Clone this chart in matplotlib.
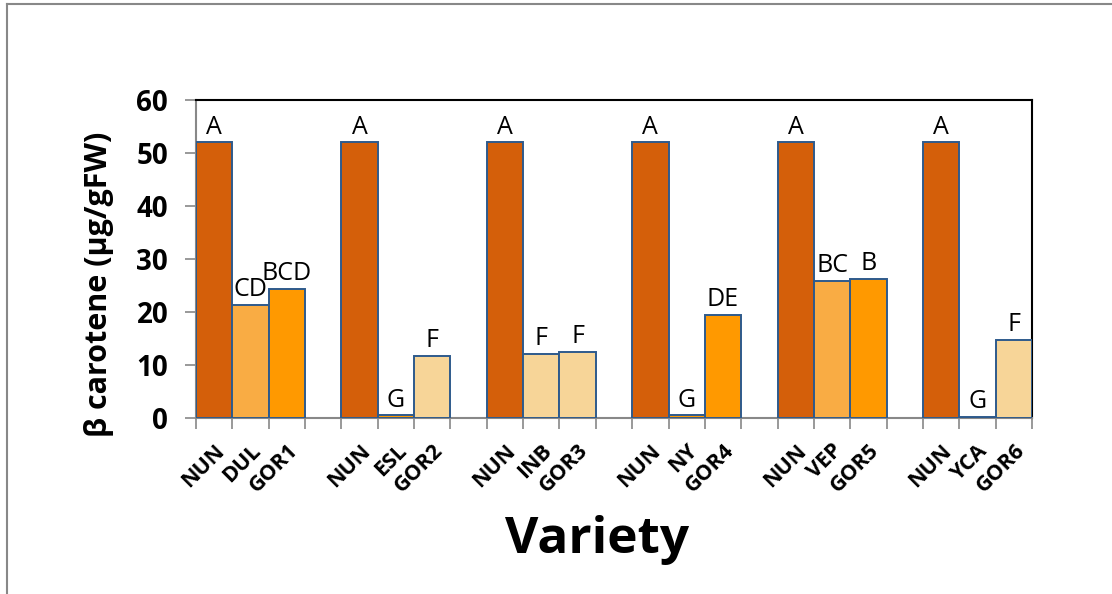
import matplotlib.pyplot as plt
from matplotlib.lines import Line2D

plt.rcParams['font.family'] = ['Open Sans', 'DejaVu Sans']

# data: 6 groups of (NUN, parent, GOR line)
varieties = ['NUN', 'DUL', 'GOR1', 'NUN', 'ESL', 'GOR2', 'NUN', 'INB', 'GOR3',
             'NUN', 'NY', 'GOR4', 'NUN', 'VEP', 'GOR5', 'NUN', 'YCA', 'GOR6']
carotene = [52.0, 21.3, 24.4, 52.0, 0.5, 11.7, 52.0, 12.1, 12.5,
            52.0, 0.5, 19.5, 52.0, 25.9, 26.2, 52.0, 0.2, 14.8]
letters = ['A', 'CD', 'BCD', 'A', 'G', 'F', 'A', 'F', 'F',
           'A', 'G', 'DE', 'A', 'BC', 'B', 'A', 'G', 'F']

dark = '#D45F0A'
light = '#F9AC44'
bright = '#FF9900'
pale = '#F7D598'
bar_colors = [dark, light, bright, dark, bright, pale, dark, pale, pale,
              dark, bright, bright, dark, light, bright, dark, pale, pale]

# three bars per group, one empty slot between groups
xpos = [(i // 3) * 4 + i % 3 for i in range(len(varieties))]

fig = plt.figure(figsize=(11.12, 5.94), dpi=100)
ax = fig.add_axes([196 / 1112, 1 - 418 / 594, (1032 - 196) / 1112, (418 - 100) / 594])

ax.bar(xpos, carotene, width=1.0, color=bar_colors, edgecolor='#2E5A8C',
       linewidth=1.4, zorder=3)

for x, v, s in zip(xpos, carotene, letters):
    ax.text(x, v + 0.5, s, ha='center', va='bottom', fontsize=18, zorder=4)

ax.set_xlim(-0.5, 22.5)
ax.set_ylim(0, 60)
ax.set_yticks(range(0, 61, 10))
ax.tick_params(axis='y', labelsize=20, length=8, width=1.2, color='#888888', pad=12)
for lab in ax.get_yticklabels():
    lab.set_fontweight('bold')

# tick marks between categories, labels under bar centres
ax.set_xticks([x - 0.5 for x in range(24)])
ax.set_xticklabels([])
ax.set_xticks(xpos, minor=True)
ax.set_xticklabels(varieties, minor=True, rotation=45, ha='right',
                   rotation_mode='anchor', fontsize=15.5, fontweight='bold')
ax.tick_params(axis='x', which='major', length=8, width=1.2, color='#888888')
ax.tick_params(axis='x', which='minor', length=0, pad=16)

for side in ['left', 'bottom']:
    ax.spines[side].set_color('#888888')
    ax.spines[side].set_linewidth(1.5)
for side in ['top', 'right']:
    ax.spines[side].set_color('black')
    ax.spines[side].set_linewidth(1.5)

ax.set_ylabel('β carotene (µg/gFW)', fontsize=22, fontweight='bold')
ax.yaxis.set_label_coords(-0.098, 0.42)
ax.set_xlabel('Variety', fontsize=37, fontweight='bold', labelpad=12)
ax.xaxis.set_label_coords(0.48, -0.305)
ax.xaxis.label.set_va('top')

# outer chart border (top and left edges visible)
fig.add_artist(Line2D([7 / 1112, 1.0], [1 - 4 / 594, 1 - 4 / 594],
                      color='#888888', linewidth=1.5, transform=fig.transFigure))
fig.add_artist(Line2D([7 / 1112, 7 / 1112], [0.0, 1 - 4 / 594],
                      color='#888888', linewidth=1.5, transform=fig.transFigure))

fig.savefig('out.png', dpi=100)
